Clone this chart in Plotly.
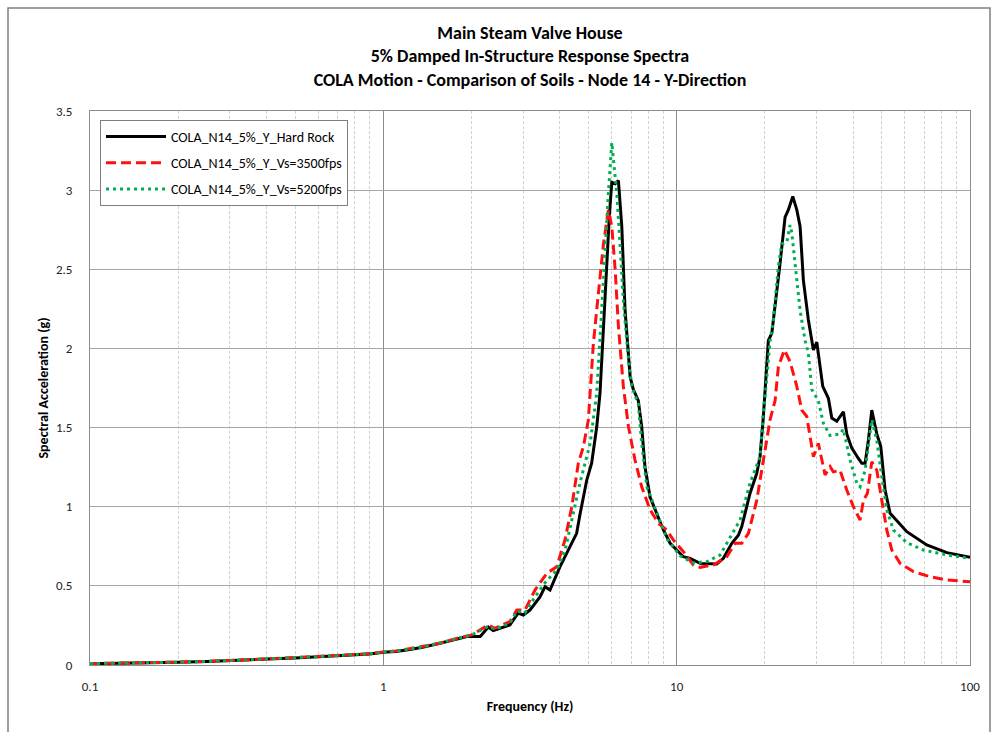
import plotly.graph_objects as go

# Hard rock foundation
freq_rock = [0.1, 0.13, 0.16, 0.2, 0.25, 0.3, 0.4, 0.5, 0.6, 0.7,
             0.8, 0.9, 1.0, 1.1, 1.2, 1.35, 1.56, 1.78, 1.93, 2.14,
             2.28, 2.37, 2.70, 2.88, 3.0, 3.16, 3.42, 3.56, 3.70, 4.0,
             4.26, 4.56, 4.68, 4.94, 5.13, 5.34, 5.48, 5.63, 5.78, 5.90,
             6.01, 6.17, 6.33, 6.50, 6.67, 6.94, 7.12, 7.40, 7.60, 7.80,
             8.12, 8.55, 9.01, 9.50, 10.54, 11.11, 12.02, 13.70, 14.43, 15.42,
             16.23, 16.67, 17.79, 18.75, 19.24, 19.75, 20.54, 21.10, 21.65, 22.52,
             23.42, 24.03, 24.88, 25.68, 26.35, 27.04, 28.12, 29.25, 30.04, 30.82,
             31.48, 32.90, 33.79, 35.14, 37.01, 38.01, 39.54, 41.64, 42.77, 43.89,
             45.04, 46.26, 48.11, 49.64, 51.35, 53.41, 60.9, 71.23, 83.35, 100]
acc_rock = [0.008, 0.010, 0.013, 0.017, 0.022, 0.027, 0.036, 0.045, 0.052, 0.058,
            0.064, 0.070, 0.080, 0.085, 0.095, 0.110, 0.137, 0.165, 0.180, 0.180,
            0.240, 0.217, 0.253, 0.328, 0.316, 0.347, 0.430, 0.495, 0.474, 0.620,
            0.726, 0.832, 0.950, 1.170, 1.275, 1.505, 1.720, 2.140, 2.560, 2.850,
            3.050, 3.040, 3.060, 2.770, 2.240, 1.820, 1.740, 1.670, 1.505, 1.250,
            1.060, 0.958, 0.853, 0.769, 0.684, 0.674, 0.642, 0.638, 0.674, 0.769,
            0.820, 0.874, 1.085, 1.210, 1.316, 1.570, 2.050, 2.095, 2.260, 2.540,
            2.830, 2.875, 2.960, 2.875, 2.770, 2.430, 2.180, 1.990, 2.040, 1.885,
            1.760, 1.685, 1.560, 1.540, 1.600, 1.460, 1.370, 1.305, 1.274, 1.274,
            1.420, 1.610, 1.460, 1.380, 1.105, 0.958, 0.842, 0.758, 0.710, 0.680]

# Soil profile Vs = 3500 fps
freq_3500 = [0.1, 0.13, 0.16, 0.2, 0.25, 0.3, 0.4, 0.5, 0.6, 0.7,
             0.8, 0.9, 1.0, 1.1, 1.2, 1.35, 1.56, 1.78, 2.0, 2.28,
             2.40, 2.70, 2.85, 3.04, 3.29, 3.61, 3.90, 4.16, 4.39, 4.62,
             4.81, 5.0, 5.20, 5.41, 5.63, 5.85, 6.01, 6.17, 6.33, 6.58,
             6.85, 7.21, 7.60, 8.12, 8.66, 9.25, 9.74, 10.54, 11.40, 12.02,
             13.34, 14.82, 15.82, 16.67, 17.56, 18.75, 19.75, 20.82, 21.65, 22.22,
             23.29, 24.36, 25.68, 26.70, 27.77, 29.25, 30.41, 32.06, 33.34, 34.21,
             36.06, 38.01, 40.04, 42.20, 43.31, 44.69, 46.26, 48.11, 50.04, 52.04,
             54.13, 57.78, 64.12, 73.11, 83.35, 100]
acc_3500 = [0.009, 0.011, 0.014, 0.018, 0.023, 0.028, 0.038, 0.047, 0.054, 0.060,
            0.066, 0.072, 0.082, 0.088, 0.100, 0.115, 0.137, 0.168, 0.190, 0.253,
            0.232, 0.274, 0.347, 0.347, 0.474, 0.580, 0.620, 0.790, 1.000, 1.274,
            1.380, 1.550, 2.030, 2.350, 2.660, 2.875, 2.770, 2.500, 2.140, 1.760,
            1.505, 1.295, 1.126, 0.980, 0.895, 0.853, 0.790, 0.716, 0.632, 0.617,
            0.632, 0.684, 0.769, 0.769, 0.832, 1.040, 1.295, 1.550, 1.670, 1.885,
            1.990, 1.916, 1.760, 1.610, 1.570, 1.316, 1.400, 1.200, 1.253, 1.220,
            1.230, 1.105, 1.000, 0.916, 1.040, 1.085, 1.284, 1.230, 1.040, 0.853,
            0.726, 0.642, 0.590, 0.558, 0.537, 0.526]

# Soil profile Vs = 5200 fps
freq_5200 = [0.1, 0.13, 0.16, 0.2, 0.25, 0.3, 0.4, 0.5, 0.6, 0.7,
             0.8, 0.9, 1.0, 1.1, 1.2, 1.35, 1.56, 1.78, 2.0, 2.28,
             2.40, 2.70, 2.85, 3.04, 3.29, 3.56, 3.90, 4.16, 4.39, 4.68,
             5.07, 5.34, 5.55, 5.70, 5.85, 6.01, 6.25, 6.41, 6.58, 6.85,
             7.03, 7.40, 7.60, 7.91, 8.55, 9.25, 9.50, 10.27, 11.40, 12.67,
             14.06, 15.21, 16.45, 17.79, 19.24, 19.75, 20.01, 20.82, 21.36, 22.22,
             22.82, 23.73, 24.36, 24.69, 25.34, 26.35, 27.40, 28.12, 28.88, 30.41,
             31.63, 33.34, 36.06, 37.01, 39.01, 41.12, 42.20, 43.89, 46.26, 48.11,
             50.04, 52.04, 54.81, 60.90, 69.35, 83.35, 100]
acc_5200 = [0.009, 0.011, 0.014, 0.018, 0.023, 0.028, 0.037, 0.046, 0.053, 0.059,
            0.065, 0.071, 0.082, 0.087, 0.098, 0.113, 0.140, 0.168, 0.190, 0.245,
            0.225, 0.265, 0.340, 0.330, 0.430, 0.520, 0.600, 0.720, 0.920, 1.150,
            1.400, 1.720, 2.240, 2.660, 2.980, 3.300, 2.980, 2.660, 2.300, 1.930,
            1.760, 1.650, 1.400, 1.126, 0.960, 0.800, 0.770, 0.690, 0.645, 0.653,
            0.695, 0.810, 0.916, 1.150, 1.316, 1.600, 1.695, 2.050, 2.180, 2.520,
            2.660, 2.670, 2.780, 2.730, 2.520, 2.240, 2.050, 1.970, 1.740, 1.670,
            1.527, 1.450, 1.460, 1.490, 1.295, 1.148, 1.126, 1.230, 1.550, 1.420,
            1.190, 0.980, 0.853, 0.773, 0.726, 0.695, 0.674]

x_tick_vals = [0.1, 1, 10, 100]
x_tick_text = ["0.1", "1", "10", "100"]
y_tick_vals = [0, 0.5, 1, 1.5, 2, 2.5, 3, 3.5]
y_tick_text = ["0", "0.5", "1", "1.5", "2", "2.5", "3", "3.5"]

FONT = "Calibri, Carlito, Lato, 'Open Sans', sans-serif"

fig = go.Figure()
fig.add_trace(go.Scatter(x=freq_rock, y=acc_rock, mode="lines",
                         name="COLA_N14_5%_Y_Hard Rock", legendgroup="a",
                         line=dict(color="#000000", width=3)))
fig.add_trace(go.Scatter(x=freq_3500, y=acc_3500, mode="lines",
                         name="COLA_N14_5%_Y_Vs=3500fps", legendgroup="b",
                         line=dict(color="#FF1010", width=3, dash="10px,5px")))
fig.add_trace(go.Scatter(x=freq_5200, y=acc_5200, mode="lines",
                         name="COLA_N14_5%_Y_Vs=5200fps", legendgroup="c",
                         line=dict(color="#00B050", width=3, dash="3px,4px")))

W, H = 1000, 732
L, R, T, B = 90, 30, 111, 67
pw, ph = W - L - R, H - T - B

def px_x(p):
    return (p - L) / pw

def px_y(p):
    return (H - B - p) / ph

fig.update_layout(
    width=W, height=H,
    margin=dict(l=L, r=R, t=T, b=B),
    paper_bgcolor="white", plot_bgcolor="white",
    font=dict(family=FONT, color="#000000"),
    title=dict(
        text="Main Steam Valve House<br>5% Damped In-Structure Response Spectra<br>"
             "COLA Motion - Comparison of Soils - Node 14 - Y-Direction",
        x=0.5, xref="paper", xanchor="center",
        y=1 - 39 / H, yref="container", yanchor="middle",
        font=dict(family=FONT, size=18, color="#000000", weight="bold"),
    ),
    showlegend=True,
    legend=dict(
        x=px_x(100), y=px_y(120), xanchor="left", yanchor="top",
        bgcolor="white", bordercolor="#7f7f7f", borderwidth=1,
        font=dict(family=FONT, size=14, color="#000000"),
        tracegroupgap=5, itemwidth=60,
    ),
    xaxis=dict(
        type="log", range=[-1, 2],
        tickvals=x_tick_vals, ticktext=x_tick_text,
        showgrid=True, gridcolor="#8c8c8c", gridwidth=1,
        minor=dict(dtick="D1", showgrid=True, gridcolor="#d2d2d2",
                   griddash="3px,2px", gridwidth=1, ticks=""),
        showline=True, linecolor="#8c8c8c", linewidth=1, mirror=True,
        ticks="", ticklabelstandoff=9,
        tickfont=dict(family=FONT, size=13, color="#222222"),
        title=dict(text="<b>Frequency (Hz)</b>", standoff=8,
                   font=dict(family=FONT, size=14, color="#000000")),
        zeroline=False,
    ),
    yaxis=dict(
        range=[0, 3.5],
        tickvals=y_tick_vals, ticktext=y_tick_text,
        showgrid=True, gridcolor="#a6a6a6", gridwidth=1,
        showline=True, linecolor="#8c8c8c", linewidth=1, mirror=True,
        ticks="", ticklabelstandoff=14,
        tickfont=dict(family=FONT, size=13, color="#222222"),
        title=dict(text="<b>Spectral Acceleration (g)</b>", standoff=4,
                   font=dict(family=FONT, size=14, color="#000000")),
        zeroline=False,
    ),
)

# Chart-area frame
fig.add_shape(type="rect", xref="paper", yref="paper",
              x0=px_x(8), x1=px_x(990), y0=px_y(760), y1=px_y(8),
              line=dict(color="#7f7f7f", width=1.5), fillcolor="rgba(0,0,0,0)",
              layer="below")

fig.write_html("out.html")
